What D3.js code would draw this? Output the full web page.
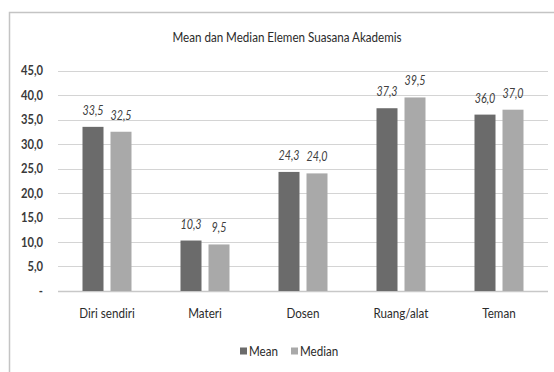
<!DOCTYPE html>
<html>
<head>
<meta charset="utf-8">
<script src="https://cdn.jsdelivr.net/npm/d3@7"></script>
<style>
  body { margin: 0; background: #fff; }
  text { font-family: Lato, "Open Sans", sans-serif; fill: #2b2b2b; }
</style>
</head>
<body>
<div id="chart"></div>
<script>
// Data
const categories = ['Diri sendiri', 'Materi', 'Dosen', 'Ruang/alat', 'Teman']
const series = ['Mean', 'Median']
const meanValues = [33.5, 10.3, 24.3, 37.3, 36.0]
const medianValues = [32.5, 9.5, 24.0, 39.5, 37.0]
const yTicks = [0, 5, 10, 15, 20, 25, 30, 35, 40, 45]
const colors = ['#6b6b6b', '#a9a9a9']

const dataset = categories.map((c, i) => ({
  name: c,
  values: [meanValues[i], medianValues[i]]
}))

// Dimensions
const width = 554
const height = 372
const plot = { left: 58, right: 548, top: 70.5, bottom: 291 }

const fmt = v => v === 0 ? '-' : v.toFixed(1).replace('.', ',')

const svg = d3.select('#chart')
  .append('svg')
  .attr('width', width)
  .attr('height', height)

// frame
svg.append('rect')
  .attr('x', 9.5)
  .attr('y', 12.5)
  .attr('width', 560)
  .attr('height', 380)
  .attr('fill', 'none')
  .attr('stroke', '#c4c4c4')
  .attr('stroke-width', 1.5)

// Scales
const x = d3.scaleBand()
  .domain(categories)
  .range([plot.left, plot.right])

const xInner = d3.scaleBand()
  .domain(series)
  .range([x.bandwidth() * 0.25, x.bandwidth() * 0.75])
  .paddingInner(0.25)

const y = d3.scaleLinear()
  .domain([0, 45])
  .range([plot.bottom, plot.top])

// grid
svg.append('g')
  .selectAll('line')
  .data(yTicks)
  .join('line')
  .attr('x1', plot.left)
  .attr('x2', plot.right)
  .attr('y1', d => Math.round(y(d)) + 0.5)
  .attr('y2', d => Math.round(y(d)) + 0.5)
  .attr('stroke', d => d === 0 ? '#c8c8c8' : '#d4d4d4')
  .attr('stroke-width', d => d === 0 ? 1.5 : 1.2)

// y labels
svg.append('g')
  .selectAll('text')
  .data(yTicks)
  .join('text')
  .attr('x', 43)
  .attr('y', d => y(d))
  .attr('dy', '0.35em')
  .attr('text-anchor', 'end')
  .style('font-size', '13px')
  .style('font-weight', 'bold')
  .style('fill', '#3a3a3a')
  .text(fmt)

// bars
const groups = svg.append('g')
  .selectAll('g')
  .data(dataset)
  .join('g')
  .attr('transform', d => `translate(${x(d.name)}, 0)`)

groups.selectAll('rect')
  .data(d => d.values.map((v, i) => ({ key: series[i], value: v, i })))
  .join('rect')
  .attr('x', d => xInner(d.key))
  .attr('y', d => y(d.value))
  .attr('width', xInner.bandwidth())
  .attr('height', d => plot.bottom - y(d.value))
  .attr('fill', d => colors[d.i])

groups.selectAll('text')
  .data(d => d.values.map((v, i) => ({ key: series[i], value: v, i })))
  .join('text')
  .attr('x', d => xInner(d.key) + xInner.bandwidth() / 2)
  .attr('y', d => y(d.value) - 12)
  .attr('text-anchor', 'middle')
  .style('font-size', '12.5px')
  .style('font-style', 'italic')
  .style('fill', '#404040')
  .text(d => fmt(d.value))

// x labels
svg.append('g')
  .selectAll('text')
  .data(categories)
  .join('text')
  .attr('x', d => x(d) + x.bandwidth() / 2)
  .attr('y', 313)
  .attr('dy', '0.35em')
  .attr('text-anchor', 'middle')
  .style('font-size', '13.5px')
  .text(d => d)

// title
svg.append('text')
  .attr('x', 287)
  .attr('y', 37)
  .attr('dy', '0.35em')
  .attr('text-anchor', 'middle')
  .style('font-size', '13.5px')
  .text('Mean dan Median Elemen Suasana Akademis')

// legend
const legendItems = [
  { name: 'Mean', x: 240 },
  { name: 'Median', x: 291 }
]
const legend = svg.append('g')
  .selectAll('g')
  .data(legendItems)
  .join('g')
  .attr('transform', d => `translate(${d.x}, 351)`)

legend.append('rect')
  .attr('x', 0)
  .attr('y', -3.5)
  .attr('width', 7)
  .attr('height', 7)
  .attr('fill', (d, i) => colors[i])

legend.append('text')
  .attr('x', 9)
  .attr('y', 0)
  .attr('dy', '0.35em')
  .style('font-size', '13.5px')
  .text(d => d.name)

// condense all text a little, like the narrow font of the original
svg.selectAll('text').each(function () {
  const len = this.getComputedTextLength()
  d3.select(this)
    .attr('textLength', len * 0.86)
    .attr('lengthAdjust', 'spacingAndGlyphs')
})
</script>
</body>
</html>
